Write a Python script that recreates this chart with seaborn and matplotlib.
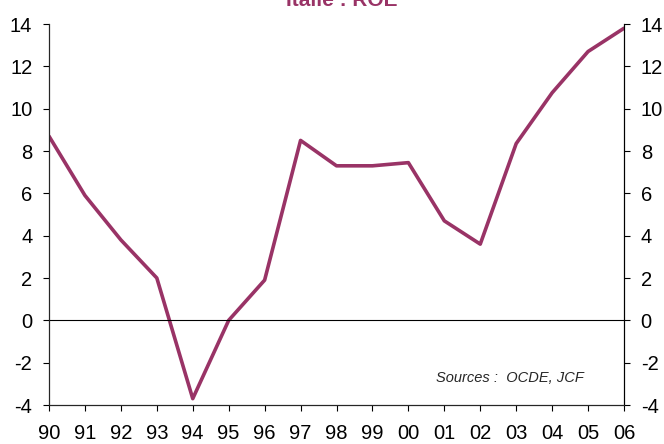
import pandas as pd
import seaborn as sns
import matplotlib.pyplot as plt

# ROE Italie, 1990-2006
years = list(range(1990, 2007))
year_labels = ["90", "91", "92", "93", "94", "95", "96", "97", "98",
               "99", "00", "01", "02", "03", "04", "05", "06"]
roe = [8.7, 5.9, 3.8, 2.0, -3.7, 0.0, 1.9, 8.5, 7.3,
       7.3, 7.45, 4.7, 3.6, 8.35, 10.75, 12.7, 13.8]
y_ticks = list(range(-4, 15, 2))

df = pd.DataFrame({"year": years, "roe": roe})

sns.set_style("white")
plt.rcParams['font.family'] = ['Liberation Sans', 'DejaVu Sans']
plt.rcParams['axes.unicode_minus'] = False

fig = plt.figure(figsize=(6.64, 4.44), dpi=100)
ax = fig.add_axes([49 / 664, 39 / 444, 575 / 664, 381 / 444])

sns.lineplot(data=df, x="year", y="roe", ax=ax, color="#993366", linewidth=2.6)
ax.axhline(0, color="black", linewidth=0.8)

ax.set_xlim(years[0], years[-1])
ax.set_ylim(-4, 14)
ax.set_xticks(years)
ax.set_xticklabels(year_labels)
ax.set_yticks(y_ticks)
ax.set_xlabel("")
ax.set_ylabel("")

for s in ["left", "right", "bottom"]:
    ax.spines[s].set_visible(True)
    ax.spines[s].set_color("black")
    ax.spines[s].set_linewidth(0.8)
ax.spines["top"].set_visible(False)

ax.tick_params(axis="both", direction="out", length=4, width=0.8,
               labelsize=14.5, colors="black", bottom=True, left=True)
ax.tick_params(axis="x", pad=9.5)
ax.tick_params(axis="y", pad=8)

ax2 = ax.twinx()
ax2.set_ylim(-4, 14)
ax2.set_yticks(y_ticks)
ax2.spines["top"].set_visible(False)
ax2.spines["right"].set_color("black")
ax2.spines["right"].set_linewidth(0.8)
ax2.tick_params(axis="y", direction="out", length=4, width=0.8,
                labelsize=14.5, colors="black", right=True, pad=8)

ax.text(0.93, 0.071, "Sources :  OCDE, JCF", transform=ax.transAxes,
        ha="right", va="center", fontsize=10.5, style="italic")

fig.text(342 / 664, 1 - 6 / 444, "Italie : ROE", ha="center", va="baseline",
         fontsize=15, fontweight="bold", color="#993366")

fig.savefig("out.png", dpi=100)
